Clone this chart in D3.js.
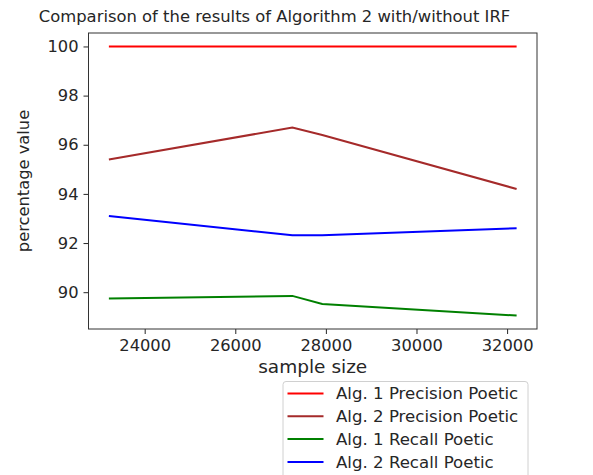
<!DOCTYPE html>
<html>
  <head>
    <meta charset="UTF-8">
    <title>Comparison of the results of Algorithm 2 with/without IRF</title>
    <script src="https://d3js.org/d3.v7.min.js" charset="utf-8"></script>
    <style>
      body { margin: 0; background: #fff; }
      text { font-family: "DejaVu Sans", sans-serif; fill: #262626; }
    </style>
  </head>
  <body>
    <script>
        var w = 593;
        var h = 475;

        // sample sizes on the x axis
        var sampleSizes = [23210, 27260, 27920, 32210];

        // one array per line
        var alg1Precision = [100, 100, 100, 100];
        var alg2Precision = [95.4, 96.7, 96.4, 94.2];
        var alg1Recall = [89.74, 89.85, 89.52, 89.05];
        var alg2Recall = [93.1, 92.32, 92.32, 92.6];

        var seriesNames = ["Alg. 1 Precision Poetic", "Alg. 2 Precision Poetic",
                           "Alg. 1 Recall Poetic", "Alg. 2 Recall Poetic"];
        var seriesColors = ["#ff0000", "#a52a2a", "#008000", "#0000ff"];
        var seriesValues = [alg1Precision, alg2Precision, alg1Recall, alg2Recall];

        var xTicks = [24000, 26000, 28000, 30000, 32000];
        var yTicks = [90, 92, 94, 96, 98, 100];

        var plot = {left: 88.5, right: 537, top: 33, bottom: 329};

        // matplotlib style 5% margins
        var xMin = d3.min(sampleSizes), xMax = d3.max(sampleSizes);
        var xPad = (xMax - xMin) * 0.05;
        var allY = d3.merge(seriesValues);
        var yMin = d3.min(allY), yMax = d3.max(allY);
        var yPad = (yMax - yMin) * 0.05;

        var x = d3.scaleLinear()
            .domain([xMin - xPad, xMax + xPad])
            .range([plot.left, plot.right]);
        var y = d3.scaleLinear()
            .domain([yMin - yPad, yMax + yPad])
            .range([plot.bottom, plot.top]);

        var svg = d3.select("body").append("svg")
            .attr("width", w)
            .attr("height", h);

        // lines
        var line = d3.line()
            .x(function(d, i){ return x(sampleSizes[i]); })
            .y(function(d){ return y(d); });

        svg.selectAll("path.series")
            .data(seriesValues)
            .enter()
            .append("path")
            .attr("class", "series")
            .attr("d", line)
            .attr("fill", "none")
            .attr("stroke", function(d, i){ return seriesColors[i]; })
            .attr("stroke-width", 2);

        // axes
        var xAxis = svg.append("g")
            .attr("transform", "translate(0," + plot.bottom + ")")
            .call(d3.axisBottom(x).tickValues(xTicks).tickFormat(d3.format("d"))
                .tickSizeOuter(0).tickSize(5).tickPadding(5));
        var yAxis = svg.append("g")
            .attr("transform", "translate(" + plot.left + ",0)")
            .call(d3.axisLeft(y).tickValues(yTicks).tickFormat(d3.format("d"))
                .tickSizeOuter(0).tickSize(5).tickPadding(5));

        [xAxis, yAxis].forEach(function(a){
            a.select(".domain").remove();
            a.selectAll("line").attr("stroke", "#262626").attr("stroke-width", 1);
            a.selectAll("text").attr("font-size", "16.3px")
                .attr("font-family", "DejaVu Sans, sans-serif").attr("fill", "#262626");
        });

        // frame
        svg.append("rect")
            .attr("x", plot.left)
            .attr("y", plot.top)
            .attr("width", plot.right - plot.left)
            .attr("height", plot.bottom - plot.top)
            .attr("fill", "none")
            .attr("stroke", "#333")
            .attr("stroke-width", 1);

        // title and labels
        svg.append("text")
            .attr("x", 274.5)
            .attr("y", 22)
            .attr("text-anchor", "middle")
            .attr("font-size", "16.4px")
            .text("Comparison of the results of Algorithm 2 with/without IRF");

        svg.append("text")
            .attr("x", (plot.left + plot.right) / 2)
            .attr("y", 373)
            .attr("text-anchor", "middle")
            .attr("font-size", "18.5px")
            .text("sample size");

        svg.append("text")
            .attr("transform", "translate(29," + ((plot.top + plot.bottom) / 2) + ") rotate(-90)")
            .attr("text-anchor", "middle")
            .attr("font-size", "16.3px")
            .text("percentage value");

        // legend
        var legend = svg.append("g").attr("transform", "translate(283,381.5)");
        legend.append("rect")
            .attr("width", 245)
            .attr("height", 110)
            .attr("rx", 3)
            .attr("fill", "#fff")
            .attr("stroke", "#d0d0d0");

        var items = legend.selectAll("g.item")
            .data(seriesNames)
            .enter()
            .append("g")
            .attr("class", "item")
            .attr("transform", function(d, i){ return "translate(0," + (12 + i * 22.8) + ")"; });
        items.append("line")
            .attr("x1", 4.5).attr("x2", 40.5)
            .attr("stroke", function(d, i){ return seriesColors[i]; })
            .attr("stroke-width", 2);
        items.append("text")
            .attr("x", 53)
            .attr("dy", "0.35em")
            .attr("font-size", "16.6px")
            .text(function(d){ return d; });
    </script>
  </body>
</html>
